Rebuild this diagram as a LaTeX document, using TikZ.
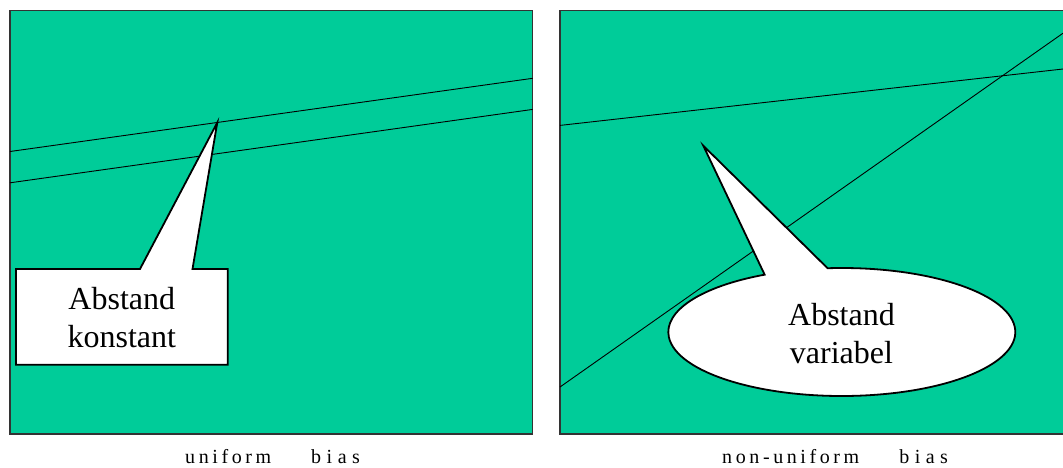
\documentclass[tikz,border=0pt]{standalone}
\usepackage{fontspec}
\setmainfont{Liberation Serif}
\usetikzlibrary{calc}
\definecolor{panelgreen}{HTML}{00CC99}
\definecolor{panelborder}{HTML}{333333}
\newcommand\lsp{\hspace{3.6pt}}
\newcommand\bsp{\hspace{5.5pt}}
\newcommand\wsp{\hspace{40pt}}
\tikzset{
  panel/.style={fill=panelgreen, draw=panelborder, line width=1.3pt},
  thinline/.style={draw=black, line width=0.9pt},
  callout/.style={fill=white, draw=black, line width=1.8pt, line join=miter},
  calltext/.style={inner sep=0pt, align=center, font=\fontsize{32}{38}\selectfont},
  captext/.style={inner sep=0pt, anchor=base west, font=\fontsize{20}{24}\selectfont}
}
\begin{document}
\begin{tikzpicture}[x=1pt, y=1pt, yscale=-1]
\useasboundingbox (0,0) rectangle (1063,467);
% panels
\path[panel] (10,10.3) rectangle (532.7,434);
\path[panel] (560,10.3) rectangle (1063.5,434);
% left panel lines
\coordinate (l1a) at (10,151.5);
\coordinate (l1b) at (532.7,78.3);
\coordinate (l2a) at (10,182.8);
\coordinate (l2b) at (532.7,109.4);
\draw[thinline] (l1a) -- (l1b);
\draw[thinline] (l2a) -- (l2b);
% right panel lines
\coordinate (r1a) at (560,125.4);
\coordinate (r1b) at (1063,69);
\coordinate (r2a) at (560,387);
\coordinate (r2b) at (1063,33.2);
\draw[thinline] (r1a) -- (r1b);
\draw[thinline] (r2a) -- (r2b);
% left callout
\coordinate (tipL) at (217.3,122.5);
\path[callout] (16,269) -- (140,269) -- (tipL) -- (192.5,269) -- (227.7,269)
  -- (227.7,364.7) -- (16,364.7) -- cycle;
\node[calltext, anchor=north] (textL) at (121.8,287) {Abstand\\konstant};
% right callout
\coordinate (ec) at (841.8,332);
\coordinate (tipR) at (703.3,145.7);
\path[callout] ($(ec)+(-116.4:173.5 and 64)$) -- (tipR)
  -- ($(ec)+(-94.7:173.5 and 64)$)
  arc[start angle=-94.7, end angle=243.6, x radius=173.5pt, y radius=64pt] -- cycle;
\node[calltext, anchor=north] (textR) at (841.5,303) {Abstand\\variabel};
% captions
\node[captext] (capL) at (185,463) {u\lsp n\lsp i\lsp f\lsp o\lsp r\lsp m\wsp b\bsp i\bsp a\bsp s};
\node[captext] (capR) at (722,463) {n\lsp o\lsp n\lsp -\lsp u\lsp n\lsp i\lsp f\lsp o\lsp r\lsp m\wsp b\bsp i\bsp a\bsp s};
\end{tikzpicture}
\end{document}
